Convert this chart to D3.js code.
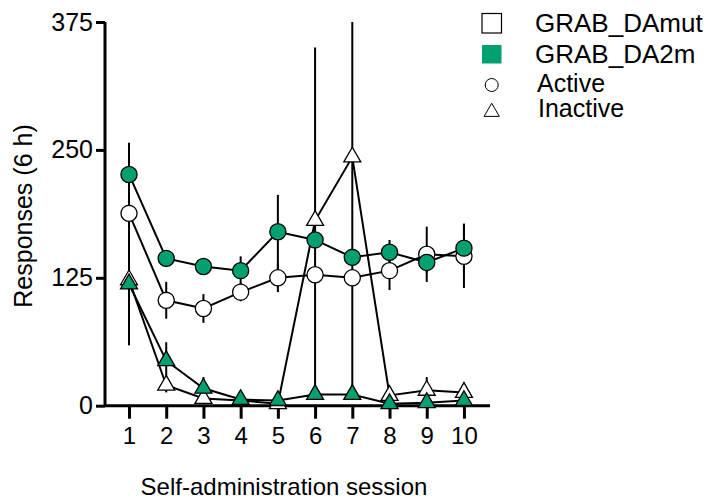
<!DOCTYPE html>
<html>
<head>
<meta charset="utf-8">
<script src="https://cdn.jsdelivr.net/npm/d3@7"></script>
<style>
  body { margin: 0; background: #fff; }
  text { font-family: "Liberation Sans", Arial, sans-serif; fill: #000; }
</style>
</head>
<body>
<div id="chart"></div>
<script>
const sessions = [1, 2, 3, 4, 5, 6, 7, 8, 9, 10];
const yTicks = [0, 125, 250, 375];

// mean and SEM
const activeMut = [188, 103, 95, 111, 125, 128, 125, 132, 148, 146];
const activeMutErr = [10, 18, 14, 9, 14, 8, 8, 19, 27, 31];
const activeDA2m = [226, 144, 136, 132, 170, 162, 145, 150, 140, 154];
const activeDA2mErr = [31, 8, 8, 14, 36, 8, 8, 12, 10, 24];
const inactiveMut = [123, 20, 7, 5, 2, 181, 243, 10, 15, 13];
const inactiveMutErr = [62, 7, 3, 2, 1, 169, 235, 4, 13, 10];
const inactiveDA2m = [119, 44, 17, 6, 5, 11, 11, 2, 3, 5];
const inactiveDA2mErr = [60, 18, 11, 3, 2, 3, 3, 1, 1, 1];

const legendLabels = ["GRAB_DAmut", "GRAB_DA2m", "Active", "Inactive"];

const green = "#00a070";
const W = 707, H = 500;

const svg = d3.select("#chart").append("svg")
    .attr("width", W)
    .attr("height", H);

const x = d3.scaleLinear().domain([0.355, 10.7]).range([105, 490]);
const y = d3.scaleLinear().domain([0, 375]).range([405.7, 22]);

const series = [
    { vals: activeMut, err: activeMutErr, fill: "#fff", shape: d3.symbolCircle, size: 205 },
    { vals: inactiveMut, err: inactiveMutErr, fill: "#fff", shape: d3.symbolTriangle, size: 125 },
    { vals: activeDA2m, err: activeDA2mErr, fill: green, shape: d3.symbolCircle, size: 205 },
    { vals: inactiveDA2m, err: inactiveDA2mErr, fill: green, shape: d3.symbolTriangle, size: 125 }
];

// error bars first
series.forEach(s => {
    svg.append("g").selectAll("line")
        .data(sessions)
        .enter().append("line")
        .attr("x1", (d) => x(d))
        .attr("x2", (d) => x(d))
        .attr("y1", (d, i) => y(Math.min(375, s.vals[i] + s.err[i])))
        .attr("y2", (d, i) => y(Math.max(0, s.vals[i] - s.err[i])))
        .attr("stroke", "#000")
        .attr("stroke-width", 2);
});

// axes
const yAxis = svg.append("g")
    .attr("transform", `translate(${x.range()[0]},0)`)
    .call(d3.axisLeft(y).tickValues(yTicks).tickSize(9).tickPadding(3));
yAxis.select(".domain").attr("stroke-width", 3).attr("d", `M0,${y(0)}V${y(375)}`);
yAxis.selectAll(".tick line").attr("stroke-width", 3);
yAxis.selectAll(".tick text").attr("font-size", 25).style("font-family", "Liberation Sans, Arial, sans-serif");

const xAxis = svg.append("g")
    .attr("transform", `translate(0,${y(0)})`)
    .call(d3.axisBottom(x).tickValues(sessions).tickSize(13).tickPadding(8));
xAxis.select(".domain").attr("stroke-width", 3).attr("d", `M${x.range()[0]},0H${x.range()[1]}`);
xAxis.selectAll(".tick line").attr("stroke-width", 3);
xAxis.selectAll(".tick text").attr("font-size", 24).style("font-family", "Liberation Sans, Arial, sans-serif");

// lines and markers
const line = d3.line().x((d, i) => x(sessions[i])).y(d => y(d));
series.forEach(s => {
    svg.append("path")
        .datum(s.vals)
        .attr("fill", "none")
        .attr("stroke", "#000")
        .attr("stroke-width", 2)
        .attr("d", line);
});
series.forEach(s => {
    svg.append("g").selectAll("path")
        .data(s.vals)
        .enter().append("path")
        .attr("transform", (d, i) => `translate(${x(sessions[i])},${y(d)})`)
        .attr("d", d3.symbol().type(s.shape).size(s.size))
        .attr("fill", s.fill)
        .attr("stroke", "#000")
        .attr("stroke-width", 1.3);
});

// axis titles
svg.append("text")
    .attr("transform", "translate(32,216) rotate(-90)")
    .attr("text-anchor", "middle")
    .attr("font-size", 25)
    .text("Responses (6 h)");

svg.append("text")
    .attr("x", 284)
    .attr("y", 495)
    .attr("text-anchor", "middle")
    .attr("font-size", 24)
    .text("Self-administration session");

// legend
const lg = svg.append("g");
lg.append("rect").attr("x", 482).attr("y", 13.5).attr("width", 19.5).attr("height", 19.5)
    .attr("fill", "#fff").attr("stroke", "#000").attr("stroke-width", 1.2);
lg.append("rect").attr("x", 482).attr("y", 45).attr("width", 19.5).attr("height", 18.5)
    .attr("fill", green).attr("stroke", "none");
lg.append("circle").attr("cx", 491.7).attr("cy", 85).attr("r", 6.5)
    .attr("fill", "#fff").attr("stroke", "#000").attr("stroke-width", 1);
lg.append("path").attr("transform", "translate(491.7,112)")
    .attr("d", d3.symbol().type(d3.symbolTriangle).size(100))
    .attr("fill", "#fff").attr("stroke", "#000").attr("stroke-width", 1);

const legendPos = [[535, 32.3, 26], [535, 63.3, 26], [537, 91.7, 25], [538, 117.3, 25]];
lg.selectAll("text.lab")
    .data(legendLabels)
    .enter().append("text")
    .attr("class", "lab")
    .attr("x", (d, i) => legendPos[i][0])
    .attr("y", (d, i) => legendPos[i][1])
    .attr("font-size", (d, i) => legendPos[i][2])
    .text(d => d);
</script>
</body>
</html>
